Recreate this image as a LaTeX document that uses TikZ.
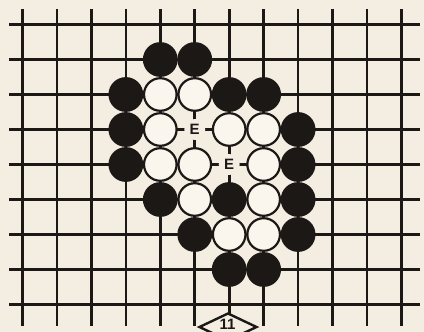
\documentclass[tikz,border=0pt]{standalone}
\usepackage{fontspec}
\setmainfont{Liberation Sans}
\usetikzlibrary{shapes.geometric}
\definecolor{paper}{HTML}{F4EDE2}
\definecolor{stonewhite}{HTML}{FAF6EE}
\definecolor{ink}{HTML}{1C1816}
\tikzset{
  gridline/.style={draw=ink, line width=2.7pt},
  blackstone/.style={circle, fill=ink, minimum size=34.8pt, inner sep=0pt},
  whitestone/.style={circle, draw=ink, fill=stonewhite, line width=2.2pt, minimum size=32.6pt, inner sep=0pt},
  emark/.style={circle, fill=paper, minimum size=21pt, inner sep=0pt, text=ink, font=\bfseries\fontsize{15}{15}\selectfont},
  markbox/.style={diamond, draw=ink, fill=paper, line width=2.4pt, minimum width=58pt, minimum height=28pt, inner sep=0pt},
  marktext/.style={text=ink, inner sep=0pt, font=\bfseries\fontsize{15}{15}\selectfont}
}
\begin{document}
\begin{tikzpicture}[x=1pt,y=-1pt]
\fill[paper] (0,0) rectangle (424,332);
\useasboundingbox (0,0) rectangle (424,332);
% grid
\foreach \c in {0,...,11} {
  \draw[gridline] ({22.5+34.45*\c},9) -- ({22.5+34.45*\c},326);
}
\foreach \r in {0,...,8} {
  \draw[gridline] (9,{24.5+35*\r}) -- (420,{24.5+35*\r});
}
% black stones
\foreach \c/\r [count=\i] in {4/1,5/1,3/2,6/2,7/2,3/3,8/3,3/4,8/4,4/5,6/5,8/5,5/6,8/6,6/7,7/7} {
  \node[blackstone] (b\i) at ({22.5+34.45*\c},{24.5+35*\r}) {};
}
% white stones
\foreach \c/\r [count=\i] in {4/2,5/2,4/3,6/3,7/3,4/4,5/4,7/4,5/5,7/5,6/6,7/6} {
  \node[whitestone] (w\i) at ({22.5+34.45*\c},{24.5+35*\r}) {};
}
% empty points
\node[emark] (e1) at ({22.5+34.45*5},{24.5+35*3}) {E};
\node[emark] (e2) at ({22.5+34.45*6},{24.5+35*4}) {E};
% move marker
\node[markbox] (mark) at (228,327) {};
\node[marktext] (marknum) at (227.5,324) {11};
\end{tikzpicture}
\end{document}
